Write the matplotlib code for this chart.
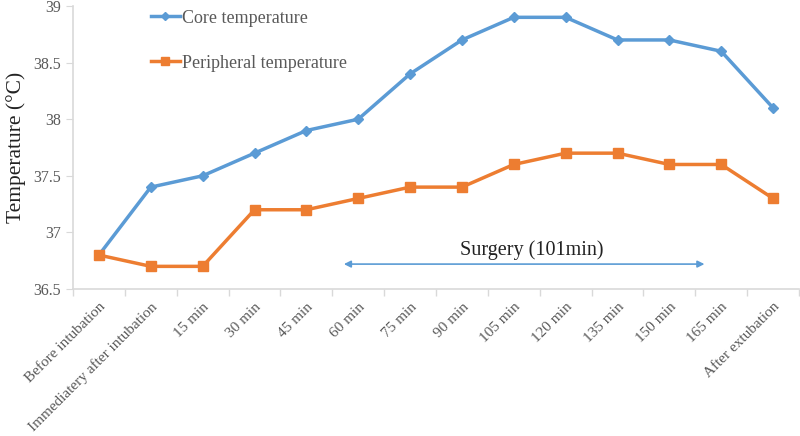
import matplotlib
matplotlib.use("Agg")
import matplotlib.pyplot as plt
import numpy as np

categories = ["Before intubation", "Immediatery after intubation", "15 min", "30 min",
              "45 min", "60 min", "75 min", "90 min", "105 min", "120 min", "135 min",
              "150 min", "165 min", "After extubation"]
core = [36.8, 37.4, 37.5, 37.7, 37.9, 38.0, 38.4, 38.7, 38.9, 38.9, 38.7, 38.7, 38.6, 38.1]
peripheral = [36.8, 36.7, 36.7, 37.2, 37.2, 37.3, 37.4, 37.4, 37.6, 37.7, 37.7, 37.6, 37.6, 37.3]
yticks = [36.5, 37, 37.5, 38, 38.5, 39]
ytick_labels = ["36.5", "37", "37.5", "38", "38.5", "39"]

plt.rcParams['font.family'] = ['Liberation Serif', 'DejaVu Serif']

fig = plt.figure(figsize=(8, 4.36), dpi=100)
ax = fig.add_axes([73/800, 1-289/436, (799-73)/800, (289-6)/436])

x = np.arange(len(categories))
blue = "#5B9BD5"
orange = "#ED7D31"
ax.plot(x, core, color=blue, lw=2.5, marker="D", ms=5, label="Core temperature")
ax.plot(x, peripheral, color=orange, lw=2.5, marker="s", ms=7, label="Peripheral temperature")

ax.set_xlim(-0.5, len(categories) - 0.5)
ax.set_ylim(36.5, 39)
ax.set_yticks(yticks)
ax.set_yticklabels(ytick_labels)
ax.set_xticks(x)
ax.set_xticklabels(categories, rotation=45, ha="right", rotation_mode="anchor")
ax.set_xticks(np.arange(-0.5, len(categories)), minor=True)
ax.tick_params(axis="x", which="major", length=0, pad=8, labelsize=11, labelcolor="#595959")
ax.tick_params(axis="x", which="minor", length=5, color="#D9D9D9", width=1)
ax.tick_params(axis="y", length=5, color="#D9D9D9", labelsize=11.5, labelcolor="#595959")

for s in ["top", "right"]:
    ax.spines[s].set_visible(False)
for s in ["left", "bottom"]:
    ax.spines[s].set_color("#D9D9D9")
    ax.spines[s].set_linewidth(1.2)

ax.set_ylabel("Temperature (°C)", fontsize=15.5, color="#222222", labelpad=5)

ax.annotate("", xy=(4.67, 36.72), xytext=(11.73, 36.72),
            arrowprops=dict(arrowstyle="<|-|>", color=blue, lw=1.2, mutation_scale=10))
ax.text(8.35, 36.755, "Surgery (101min)", fontsize=14.5, color="#222222", ha="center", va="bottom")

leg = ax.legend(loc="upper left", bbox_to_anchor=(0.085, 1.045), frameon=False,
                fontsize=13, handlelength=1.6, handletextpad=0.1, labelspacing=1.55,
                markerscale=0.8)
for t in leg.get_texts():
    t.set_color("#595959")

fig.savefig("out.png", dpi=100)
